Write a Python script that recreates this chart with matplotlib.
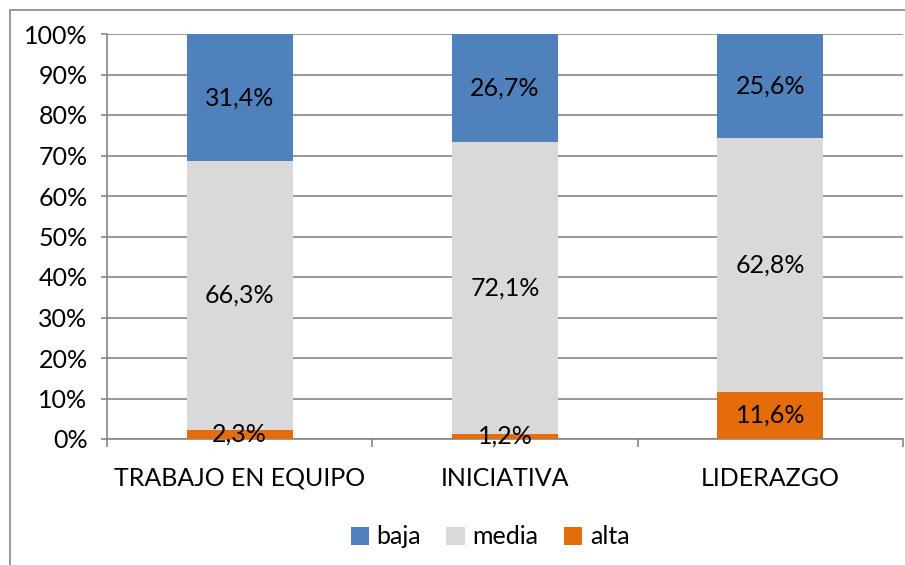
import matplotlib.pyplot as plt
from matplotlib.patches import Rectangle

plt.rcParams['font.family'] = ['Lato', 'DejaVu Sans']

categories = ["TRABAJO EN EQUIPO", "INICIATIVA", "LIDERAZGO"]
alta = [2.3, 1.2, 11.6]
media = [66.3, 72.1, 62.8]
baja = [31.4, 26.7, 25.6]

colors = {"baja": "#4F81BD", "media": "#D9D9D9", "alta": "#E46C0A"}
fs = 18

fig = plt.figure(figsize=(9.05, 5.65), dpi=100)
ax = fig.add_axes([107 / 905, 1 - 439 / 565, 796 / 905, 405 / 565])

x = list(range(len(categories)))
bottom_media = alta
bottom_baja = [a + m for a, m in zip(alta, media)]

b_alta = ax.bar(x, alta, width=0.4, color=colors["alta"], label="alta", zorder=3)
b_media = ax.bar(x, media, width=0.4, bottom=bottom_media, color=colors["media"], label="media", zorder=3)
b_baja = ax.bar(x, baja, width=0.4, bottom=bottom_baja, color=colors["baja"], label="baja", zorder=3)

for bars, vals in [(b_alta, alta), (b_media, media), (b_baja, baja)]:
    ax.bar_label(bars, labels=[f"{v:.1f}%".replace(".", ",") for v in vals],
                 label_type="center", fontsize=fs, zorder=4)

ax.set_xlim(-0.5, 2.5)
ax.set_ylim(0, 100)
ax.set_yticks(range(0, 101, 10))
ax.set_yticklabels([f"{v}%" for v in range(0, 101, 10)], fontsize=fs)
ax.set_xticks(x)
ax.set_xticklabels(categories, fontsize=fs)
ax.tick_params(axis="x", length=0, pad=20)
ax.set_xticks([-0.5, 0.5, 1.5, 2.5], minor=True)
ax.tick_params(axis="x", which="minor", length=6, color="#868686", width=1.2)
ax.tick_params(axis="y", length=4, color="#868686", width=1.2, pad=10)

ax.grid(axis="y", color="#868686", linewidth=1.2, zorder=0)
for s in ["top", "right"]:
    ax.spines[s].set_visible(False)
for s in ["left", "bottom"]:
    ax.spines[s].set_color("#868686")
    ax.spines[s].set_linewidth(1.2)

handles = [b_baja, b_media, b_alta]
fig.legend(handles, ["baja", "media", "alta"], loc="center", bbox_to_anchor=(490 / 905, 1 - 537 / 565),
           ncol=3, frameon=False, fontsize=fs, handlelength=0.75, handleheight=0.75,
           handletextpad=0.3, columnspacing=1.0)

border = Rectangle((10 / 905, -0.05), 1.2, 1 - 10 / 565 + 0.05, transform=fig.transFigure,
                   fill=False, edgecolor="#868686", linewidth=1.2, clip_on=False)
fig.patches.append(border)

plt.savefig("out.png", dpi=100)
